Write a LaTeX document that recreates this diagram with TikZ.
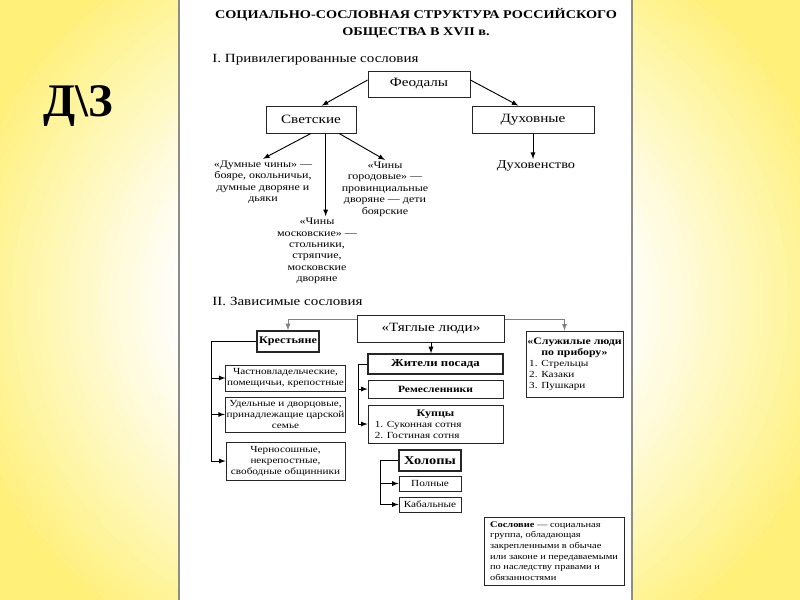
\documentclass[tikz,border=0pt]{standalone}
\usepackage{fontspec}
\setmainfont{Liberation Serif}[FakeStretch=1.2]
\newfontfamily\hwfont{Liberation Serif}
\usetikzlibrary{arrows, shapes}

\definecolor{slideyellow}{RGB}{255,240,122}
\definecolor{pageedge}{RGB}{140,140,140}

\begin{document}
\begin{tikzpicture}[x=0.75pt, y=-0.75pt, >=latex,
box/.style={draw=black!85, line width=.6pt, fill=white, align=center,
  inner sep=1pt, font=\fontsize{9.5}{11}\selectfont},
%
smallbox/.style={box, font=\fontsize{7}{8.25}\selectfont},
%
headbox/.style={box, line width=1.1pt, font=\bfseries\fontsize{7.6}{9.5}\selectfont},
%
note/.style={align=center, inner sep=1pt, font=\fontsize{7.5}{8.6}\selectfont},
%
heading/.style={anchor=base west, inner sep=0pt, font=\fontsize{9.4}{11}\selectfont}]

\useasboundingbox (0,0) rectangle (800,600);

% slide and scanned page
\fill[slideyellow] (0,0) rectangle (800,600);
\foreach \i in {0,...,30} {
  \pgfmathsetmacro{\rad}{1.15-0.02*\i}
  \pgfmathsetmacro{\pct}{100-100*\i/30}
  \fill[slideyellow!\pct!white] (400,300) ellipse ({\rad*400} and {\rad*360});
}
\fill[white] (179,0) rectangle (632,600);
\draw[pageedge, line width=1.2pt] (179,0) -- (179,600);
\draw[pageedge, line width=1.2pt] (632,0) -- (632,600);

\tikzset{every path/.style={line width=.7pt}}

\node[anchor=base, inner sep=0pt, font=\hwfont\bfseries\fontsize{35}{40}\selectfont] (hw) at (78,116) {Д\textbackslash З};

\node[align=center, inner sep=0pt, font=\bfseries\fontsize{8.9}{12.5}\selectfont] (title) at (416,23.5)
  {СОЦИАЛЬНО-СОСЛОВНАЯ СТРУКТУРА РОССИЙСКОГО\\ОБЩЕСТВА В XVII в.};

%%%%%%%%%%%%%%%%%%%%%%%%%%%%%%
\node[heading] (privH) at (212,62) {I. Привилегированные сословия};

\node[box, minimum width=76.5pt, minimum height=19.5pt] (feud) at (419,84) {Феодалы};
\node[box, minimum width=67.5pt, minimum height=20.25pt] (svet) at (311,119.5) {Светские};
\node[box, minimum width=91.5pt, minimum height=20.25pt] (duh) at (533,119.5) {Духовные};

\node[note] (dumny) at (263,182) {«Думные чины» —\\бояре, окольничьи,\\думные дворяне и\\дьяки};
\node[note] (gorod) at (385,189) {«Чины\\городовые» —\\провинциальные\\дворяне — дети\\боярские};
\node[note] (mosk) at (317,251) {«Чины\\московские» —\\стольники,\\стряпчие,\\московские\\дворяне};
\node[note, font=\fontsize{9}{11}\selectfont] (duhov) at (536,166) {Духовенство};

%%%%%%%%%%%%%%%%%%%%%%%%%%%%%%
\node[heading] (depH) at (212,305) {II. Зависимые сословия};

\node[box, minimum width=110pt, minimum height=20.25pt] (tyag) at (431,328.5) {«Тяглые люди»};

\node[headbox, minimum width=46.5pt, minimum height=15.75pt] (krest) at (288,341.5) {Крестьяне};
\node[smallbox, minimum width=89.25pt, minimum height=19.5pt] (priv) at (285.5,378)
  {Частновладельческие,\\помещичьи, крепостные};
\node[smallbox, minimum width=89.25pt, minimum height=26.25pt] (udel) at (285.5,414.5)
  {Удельные и дворцовые,\\принадлежащие царской\\семье};
\node[smallbox, minimum width=89.25pt, minimum height=28.5pt] (chern) at (285.5,461)
  {Черносошные,\\некрепостные,\\свободные общинники};

\node[headbox, minimum width=101.25pt, minimum height=15pt, font=\bfseries\fontsize{8}{9.5}\selectfont] (zhit) at (435.5,364) {Жители посада};
\node[box, minimum width=101.25pt, minimum height=13.5pt, font=\bfseries\fontsize{7.2}{8.5}\selectfont] (rem) at (435.5,389) {Ремесленники};
\node[box, minimum width=101.25pt, minimum height=28.5pt, font=\fontsize{7}{8.4}\selectfont] (kup) at (435.5,424)
  {\textbf{\fontsize{7.5}{8.4}\selectfont Купцы}\\\makebox[91pt][l]{1. Суконная сотня}\\\makebox[91pt][l]{2. Гостиная сотня}};

\node[headbox, minimum width=46.5pt, minimum height=15.75pt, font=\bfseries\fontsize{9}{10}\selectfont] (hol) at (430,460.5) {Холопы};
\node[smallbox, minimum width=46.5pt, minimum height=11.25pt] (poln) at (430,483.5) {Полные};
\node[smallbox, minimum width=46.5pt, minimum height=11.25pt] (kab) at (430,504.5) {Кабальные};

\node[box, minimum width=72.75pt, minimum height=49.5pt, font=\fontsize{7}{8.3}\selectfont] (sluzh) at (574.5,364)
  {\textbf{\fontsize{7.4}{8.3}\selectfont «Служилые люди}\\\textbf{\fontsize{7.4}{8.3}\selectfont по прибору»}\\
   \makebox[68pt][l]{1. Стрельцы}\\\makebox[68pt][l]{2. Казаки}\\\makebox[68pt][l]{3. Пушкари}};

\node[box, minimum width=105pt, minimum height=51pt, align=left, inner xsep=2pt,
  font=\fontsize{6.5}{8}\selectfont] (sosl) at (554,551)
  {\textbf{Сословие} — социальная\\группа, обладающая\\закрепленными в обычае\\или законе и передаваемыми\\по наследству правами и\\обязанностями};

\begin{scope}
  \draw [->] ([yshift=3pt]feud.west) -- ([xshift=8pt]svet.north);
  \draw [->] ([yshift=3pt]feud.east) -- ([xshift=-11pt]duh.north);
  \draw [->] (svet.south) -- (dumny.north);
  \draw [->] ([xshift=11pt]svet.south) -- ([xshift=11pt]svet.south |- mosk.north);
  \draw [->] ([xshift=21pt]svet.south) -- (gorod.north);
  \draw [->] (duh.south) -- (duh.south |- duhov.north);
  %%%%%%%%%%%%%%%%%%%%%%%%%%%%%%
  \draw [->, gray] ([yshift=7pt]tyag.west) -| (krest.north);
  \draw [->, gray] ([yshift=7pt]tyag.east) -| ([xshift=-7.5pt]sluzh.north);
  \draw [->] (tyag.south) -- (tyag.south |- zhit.north);
  \foreach \kind in {priv, udel, chern}
    \draw [->] (krest.west) -- ++(-45,0) |- (\kind.west);
  \foreach \kind in {rem, kup}
    \draw [->] (zhit.west) -- ++(-9,0) |- (\kind.west);
  \foreach \kind in {poln, kab}
    \draw [->] (hol.west) -- ++(-18,0) |- (\kind.west);
\end{scope}

\end{tikzpicture}
\end{document}
